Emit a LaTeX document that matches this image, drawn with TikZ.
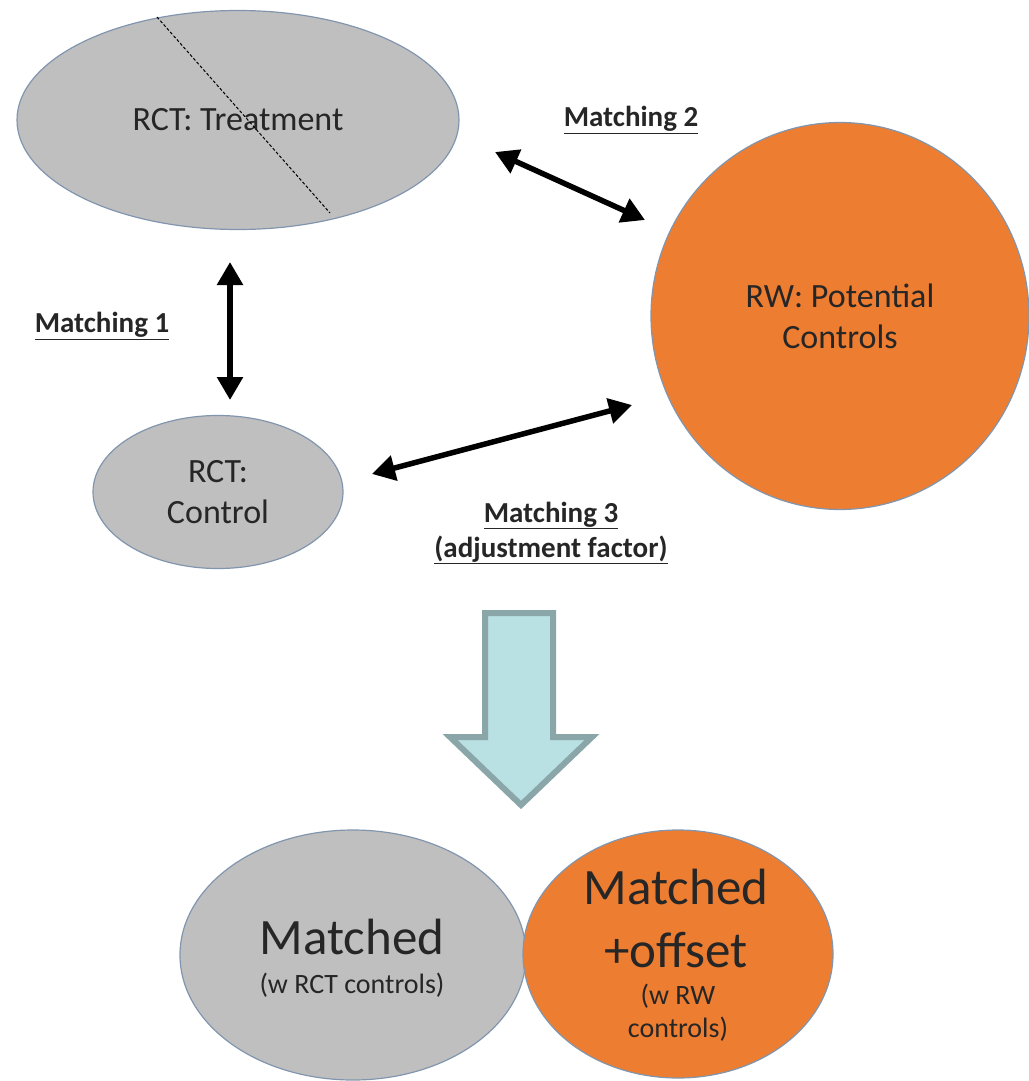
\documentclass[tikz,border=0pt]{standalone}
\usepackage{fontspec}
\setmainfont{Carlito}
\usepackage{xcolor}
\usetikzlibrary{positioning,shapes,arrows.meta}
\definecolor{rctgray}{HTML}{BFBFBF}
\definecolor{rworange}{HTML}{ED7D31}
\definecolor{edgeblue}{HTML}{8196AE}
\definecolor{bigfill}{HTML}{B9E0E3}
\definecolor{bigedge}{HTML}{8AA6A9}
\definecolor{ink}{HTML}{262626}

\begin{document}
\begin{tikzpicture}[x=1pt,y=-1pt,
                    dbl/.style={{Triangle[length=23pt,width=25pt]}-{Triangle[length=23pt,width=25pt]},line width=5.5pt,black},
                    mlabel/.style={font=\fontsize{29}{35}\selectfont\bfseries,text=ink,align=center},
                    every node/.style={text=ink}]
  \tikzstyle{pool}=[ellipse,draw=edgeblue,line width=1.2pt,inner sep=0pt,align=center,
                    font=\fontsize{34}{41}\selectfont]
  \useasboundingbox (0,0) rectangle (1028,1081);

  % populations
  \node[pool,fill=rctgray,minimum width=442pt,minimum height=219pt] (trt) at (238,120) {RCT: Treatment};
  \node[pool,fill=rworange,minimum width=378pt,minimum height=387pt] (rw)  at (840,316) {RW: Potential\\Controls};
  \node[pool,fill=rctgray,minimum width=250pt,minimum height=153pt] (ctl) at (218,492) {RCT:\\Control};
  \draw[densely dashed,line width=1pt] (157,17) -- (330,213);

  % matching arrows
  \coordinate (m1a) at (230,262);
  \coordinate (m1b) at (230,400);
  \coordinate (m2a) at (495,152);
  \coordinate (m2b) at (645,220);
  \coordinate (m3a) at (632,405);
  \coordinate (m3b) at (372,474);
  \draw[dbl] (m1a) -- (m1b);
  \draw[dbl] (m2a) -- (m2b);
  \draw[dbl] (m3a) -- (m3b);

  \node[mlabel] (lbl1) at (102,326) {\underline{Matching 1}};
  \node[mlabel] (lbl2) at (631,120) {\underline{Matching 2}};
  \node[mlabel] (lbl3) at (551,533) {\underline{Matching 3}\\\underline{(adjustment factor)}};

  % big arrow
  \draw[line width=6pt,draw=bigedge,fill=bigfill,line join=miter]
    (485,613) -- (553,613) -- (553,737) -- (592,737) -- (521,805)
    -- (450,737) -- (485,737) -- cycle;

  % results
  \node[pool,fill=rctgray,minimum width=346pt,minimum height=250pt] (mrct) at (353,955) {};
  \node[pool,fill=rworange,minimum width=310pt,minimum height=248pt] (mrw) at (678,954) {};
  \node[font=\fontsize{51}{60}\selectfont] (mrctt) at (352,937) {Matched};
  \node[font=\fontsize{28}{33}\selectfont] (mrcts) at (352,985) {(w RCT controls)};
  \node[font=\fontsize{51}{63}\selectfont,align=center] (mrwt) at (676,918) {Matched\\+offset};
  \node[font=\fontsize{28}{33}\selectfont,align=center] (mrws) at (678,1013) {(w RW\\controls)};
\end{tikzpicture}
\end{document}
